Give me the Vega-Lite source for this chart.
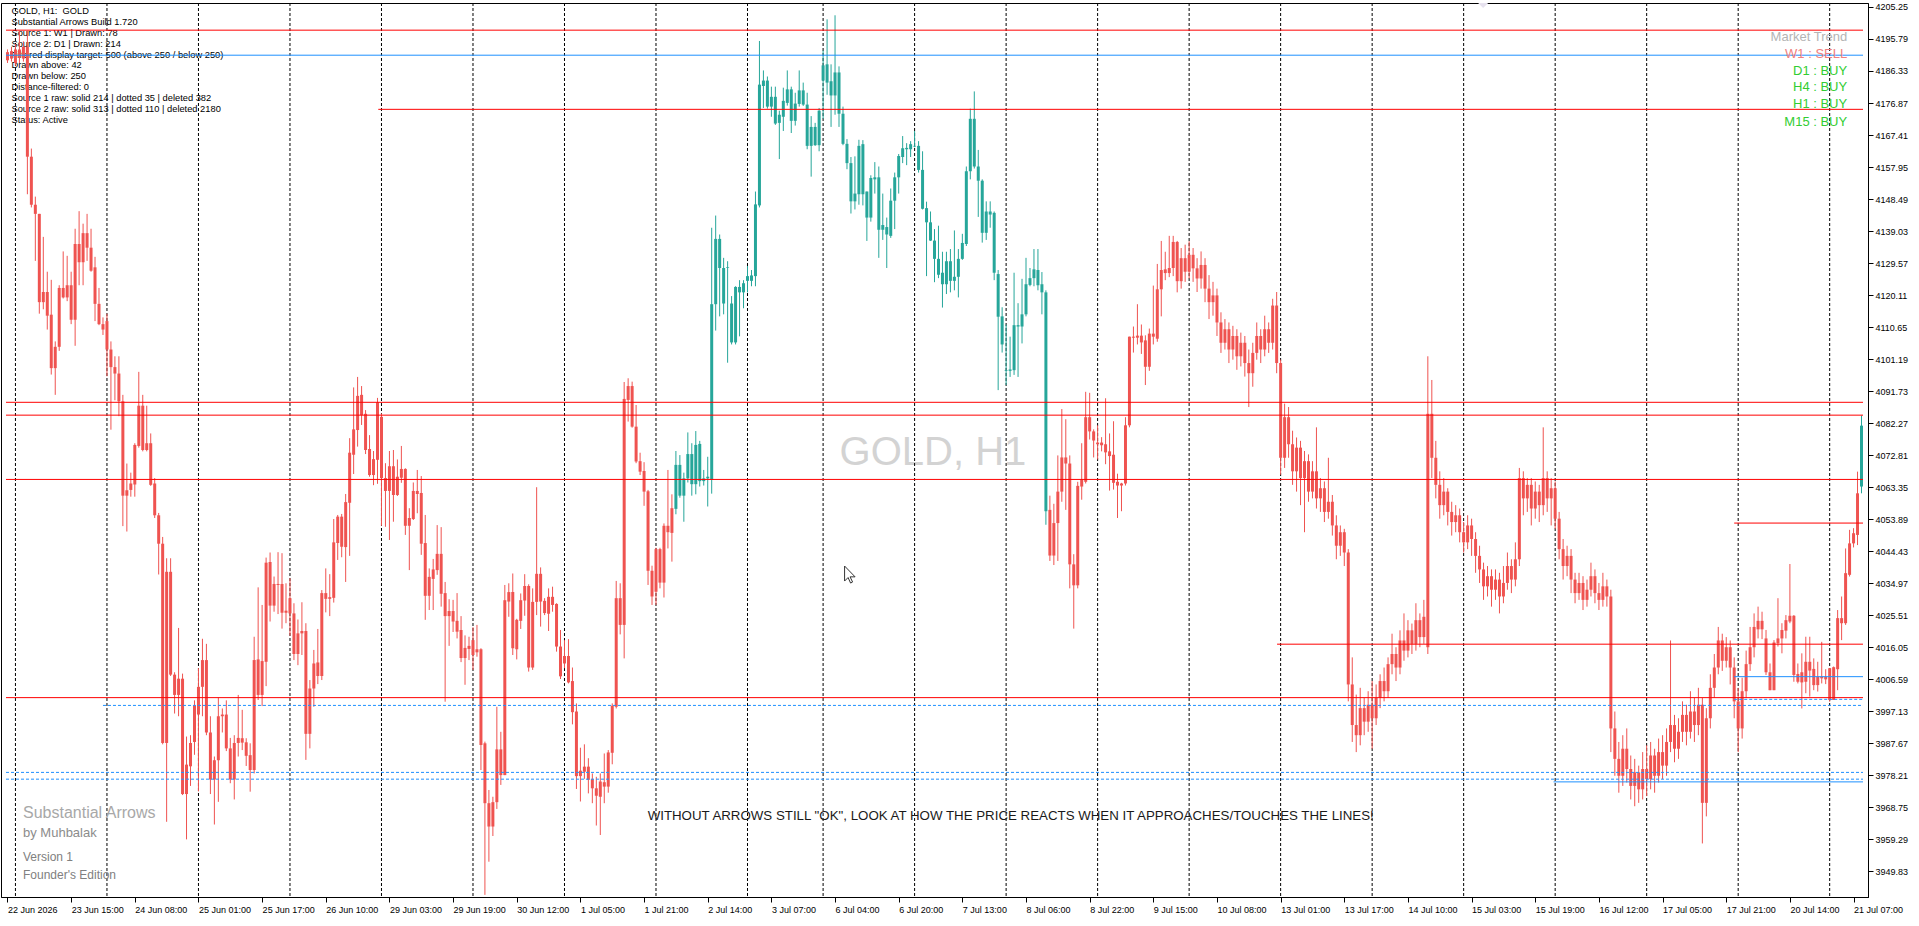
{
  "$schema": "https://vega.github.io/schema/vega-lite/v6.json",
  "width": 1867,
  "height": 894,
  "autosize": "none",
  "padding": {"left": 1, "top": 3, "right": 51, "bottom": 29},
  "background": "white",
  "config": {
    "view": {"stroke": "#000000", "strokeWidth": 1},
    "font": "Liberation Sans",
    "axis": {"labelFont": "Liberation Sans", "labelColor": "#000000", "tickColor": "#000000", "domainColor": "#000000"}
  },
  "resolve": {"axis": {"x": "independent", "y": "independent"}},
  "datasets": {
    "bars": [
      {"i":0,"o":4191.9,"h":4192.7,"l":4188.7,"c":4189.5,"t":"d"},
      {"i":1,"o":4192.2,"h":4193.5,"l":4189.1,"c":4190.0,"t":"d"},
      {"i":2,"o":4192.7,"h":4194.3,"l":4187.9,"c":4188.7,"t":"d"},
      {"i":3,"o":4192.7,"h":4198.2,"l":4188.7,"c":4190.3,"t":"d"},
      {"i":4,"o":4193.5,"h":4195.1,"l":4189.1,"c":4190.0,"t":"d"},
      {"i":5,"o":4193.5,"h":4198.2,"l":4149.9,"c":4161.0,"t":"d"},
      {"i":6,"o":4161.0,"h":4163.4,"l":4146.0,"c":4146.8,"t":"d"},
      {"i":7,"o":4146.8,"h":4149.2,"l":4130.2,"c":4144.1,"t":"d"},
      {"i":8,"o":4144.1,"h":4144.1,"l":4114.6,"c":4118.0,"t":"d"},
      {"i":9,"o":4118.0,"h":4137.3,"l":4115.9,"c":4121.0,"t":"d"},
      {"i":10,"o":4121.0,"h":4127.0,"l":4109.9,"c":4114.0,"t":"d"},
      {"i":11,"o":4114.3,"h":4124.6,"l":4096.6,"c":4098.5,"t":"d"},
      {"i":12,"o":4098.5,"h":4106.4,"l":4090.6,"c":4104.8,"t":"d"},
      {"i":13,"o":4104.8,"h":4123.0,"l":4103.6,"c":4122.2,"t":"d"},
      {"i":14,"o":4122.2,"h":4133.0,"l":4119.1,"c":4119.4,"t":"d"},
      {"i":15,"o":4119.4,"h":4131.7,"l":4118.3,"c":4123.0,"t":"d"},
      {"i":16,"o":4123.0,"h":4127.0,"l":4111.5,"c":4112.8,"t":"d"},
      {"i":17,"o":4112.8,"h":4139.7,"l":4105.1,"c":4135.2,"t":"d"},
      {"i":18,"o":4135.2,"h":4144.9,"l":4123.0,"c":4129.8,"t":"d"},
      {"i":19,"o":4129.8,"h":4141.2,"l":4123.0,"c":4138.4,"t":"d"},
      {"i":20,"o":4138.4,"h":4144.1,"l":4130.2,"c":4134.1,"t":"d"},
      {"i":21,"o":4134.1,"h":4139.7,"l":4127.0,"c":4127.3,"t":"d"},
      {"i":22,"o":4128.3,"h":4131.4,"l":4112.4,"c":4117.5,"t":"d"},
      {"i":23,"o":4117.5,"h":4122.2,"l":4111.2,"c":4111.5,"t":"d"},
      {"i":24,"o":4111.5,"h":4113.5,"l":4108.3,"c":4109.9,"t":"d"},
      {"i":25,"o":4112.4,"h":4114.6,"l":4096.1,"c":4104.0,"t":"d"},
      {"i":26,"o":4104.0,"h":4106.4,"l":4080.3,"c":4098.8,"t":"d"},
      {"i":27,"o":4098.8,"h":4102.0,"l":4089.0,"c":4096.9,"t":"d"},
      {"i":28,"o":4096.9,"h":4102.0,"l":4084.3,"c":4088.7,"t":"d"},
      {"i":29,"o":4088.7,"h":4090.6,"l":4051.8,"c":4060.8,"t":"d"},
      {"i":30,"o":4060.8,"h":4070.3,"l":4050.2,"c":4062.4,"t":"d"},
      {"i":31,"o":4062.5,"h":4067.6,"l":4060.5,"c":4064.4,"t":"d"},
      {"i":32,"o":4064.1,"h":4076.3,"l":4060.5,"c":4075.8,"t":"d"},
      {"i":33,"o":4075.5,"h":4097.4,"l":4075.0,"c":4087.4,"t":"d"},
      {"i":34,"o":4087.4,"h":4090.6,"l":4073.9,"c":4074.3,"t":"d"},
      {"i":35,"o":4074.3,"h":4087.4,"l":4073.9,"c":4076.3,"t":"d"},
      {"i":36,"o":4076.3,"h":4079.2,"l":4063.7,"c":4064.0,"t":"d"},
      {"i":37,"o":4064.4,"h":4066.0,"l":4054.2,"c":4055.0,"t":"d"},
      {"i":38,"o":4055.0,"h":4055.7,"l":4037.5,"c":4046.6,"t":"d"},
      {"i":39,"o":4046.6,"h":4048.6,"l":3987.3,"c":3987.7,"t":"d"},
      {"i":40,"o":3987.7,"h":4042.3,"l":3964.4,"c":4038.3,"t":"d"},
      {"i":41,"o":4038.3,"h":4042.3,"l":4007.5,"c":4007.9,"t":"d"},
      {"i":42,"o":4007.9,"h":4008.6,"l":3996.4,"c":4001.9,"t":"d"},
      {"i":43,"o":4001.9,"h":4021.7,"l":3995.6,"c":4006.7,"t":"d"},
      {"i":44,"o":4006.7,"h":4008.2,"l":3972.3,"c":3972.6,"t":"d"},
      {"i":45,"o":3972.6,"h":3989.6,"l":3959.2,"c":3981.3,"t":"d"},
      {"i":46,"o":3980.8,"h":3990.0,"l":3975.0,"c":3987.7,"t":"d"},
      {"i":47,"o":3988.0,"h":4000.3,"l":3984.2,"c":3998.7,"t":"d"},
      {"i":48,"o":3996.1,"h":4009.8,"l":3973.4,"c":4004.3,"t":"d"},
      {"i":49,"o":4004.3,"h":4018.5,"l":3995.6,"c":4012.2,"t":"d"},
      {"i":50,"o":4012.2,"h":4017.0,"l":3990.0,"c":3990.8,"t":"d"},
      {"i":51,"o":3990.8,"h":3995.6,"l":3972.6,"c":3976.9,"t":"d"},
      {"i":52,"o":3976.9,"h":3983.7,"l":3963.6,"c":3982.6,"t":"d"},
      {"i":53,"o":3982.6,"h":4001.1,"l":3970.3,"c":3995.6,"t":"d"},
      {"i":54,"o":3995.6,"h":3997.9,"l":3990.8,"c":3996.1,"t":"d"},
      {"i":55,"o":3996.1,"h":4000.3,"l":3985.3,"c":3986.1,"t":"d"},
      {"i":56,"o":3986.1,"h":3989.2,"l":3975.8,"c":3976.9,"t":"d"},
      {"i":57,"o":3976.9,"h":3990.0,"l":3971.0,"c":3987.7,"t":"d"},
      {"i":58,"o":3987.7,"h":4001.9,"l":3983.7,"c":3989.2,"t":"d"},
      {"i":59,"o":3989.1,"h":3997.5,"l":3985.6,"c":3987.8,"t":"d"},
      {"i":60,"o":3987.9,"h":3989.1,"l":3980.9,"c":3983.9,"t":"d"},
      {"i":61,"o":3984.1,"h":3987.6,"l":3973.3,"c":3979.7,"t":"d"},
      {"i":62,"o":3979.7,"h":4019.1,"l":3978.7,"c":4012.2,"t":"d"},
      {"i":63,"o":4012.4,"h":4033.7,"l":4000.4,"c":4001.9,"t":"d"},
      {"i":64,"o":4001.9,"h":4028.5,"l":3998.6,"c":4011.9,"t":"d"},
      {"i":65,"o":4011.7,"h":4042.5,"l":4004.5,"c":4041.0,"t":"d"},
      {"i":66,"o":4041.2,"h":4044.0,"l":4023.6,"c":4028.3,"t":"d"},
      {"i":67,"o":4028.3,"h":4036.9,"l":4026.5,"c":4034.7,"t":"d"},
      {"i":68,"o":4034.7,"h":4044.1,"l":4025.8,"c":4034.4,"t":"d"},
      {"i":69,"o":4034.7,"h":4043.8,"l":4021.5,"c":4026.2,"t":"d"},
      {"i":70,"o":4026.2,"h":4034.9,"l":4023.1,"c":4026.8,"t":"d"},
      {"i":71,"o":4026.0,"h":4036.4,"l":4019.4,"c":4030.5,"t":"d"},
      {"i":72,"o":4026.0,"h":4029.0,"l":4012.2,"c":4014.0,"t":"d"},
      {"i":73,"o":4014.0,"h":4024.2,"l":4010.7,"c":4020.1,"t":"d"},
      {"i":74,"o":4020.1,"h":4029.3,"l":4013.7,"c":4020.8,"t":"d"},
      {"i":75,"o":4020.8,"h":4023.1,"l":3982.7,"c":3990.4,"t":"d"},
      {"i":76,"o":3990.4,"h":4006.3,"l":3986.1,"c":4003.8,"t":"d"},
      {"i":77,"o":4003.8,"h":4015.2,"l":3998.4,"c":4011.2,"t":"d"},
      {"i":78,"o":4011.5,"h":4021.4,"l":4005.1,"c":4007.5,"t":"d"},
      {"i":79,"o":4007.5,"h":4032.9,"l":4006.3,"c":4032.0,"t":"d"},
      {"i":80,"o":4032.0,"h":4039.3,"l":4026.3,"c":4030.3,"t":"d"},
      {"i":81,"o":4030.3,"h":4037.6,"l":4025.2,"c":4030.8,"t":"d"},
      {"i":82,"o":4030.6,"h":4053.9,"l":4029.2,"c":4047.0,"t":"d"},
      {"i":83,"o":4046.8,"h":4055.1,"l":4041.8,"c":4054.6,"t":"d"},
      {"i":84,"o":4054.6,"h":4055.4,"l":4042.6,"c":4045.7,"t":"d"},
      {"i":85,"o":4045.6,"h":4061.3,"l":4035.3,"c":4058.9,"t":"d"},
      {"i":86,"o":4058.7,"h":4077.8,"l":4043.0,"c":4073.5,"t":"d"},
      {"i":87,"o":4072.9,"h":4092.8,"l":4067.2,"c":4080.4,"t":"d"},
      {"i":88,"o":4080.2,"h":4095.9,"l":4075.3,"c":4090.3,"t":"d"},
      {"i":89,"o":4090.6,"h":4093.2,"l":4081.7,"c":4084.6,"t":"d"},
      {"i":90,"o":4085.0,"h":4086.1,"l":4073.1,"c":4074.3,"t":"d"},
      {"i":91,"o":4074.6,"h":4078.7,"l":4066.4,"c":4066.9,"t":"d"},
      {"i":92,"o":4066.9,"h":4074.0,"l":4063.9,"c":4071.6,"t":"d"},
      {"i":93,"o":4071.4,"h":4089.7,"l":4064.3,"c":4088.4,"t":"d"},
      {"i":94,"o":4084.1,"h":4085.1,"l":4051.9,"c":4066.0,"t":"d"},
      {"i":95,"o":4066.0,"h":4070.4,"l":4051.6,"c":4062.2,"t":"d"},
      {"i":96,"o":4062.2,"h":4074.0,"l":4047.7,"c":4069.5,"t":"d"},
      {"i":97,"o":4069.5,"h":4074.3,"l":4053.1,"c":4061.0,"t":"d"},
      {"i":98,"o":4061.0,"h":4071.5,"l":4060.7,"c":4066.4,"t":"d"},
      {"i":99,"o":4066.1,"h":4075.5,"l":4064.6,"c":4068.7,"t":"d"},
      {"i":100,"o":4068.7,"h":4068.9,"l":4049.2,"c":4051.9,"t":"d"},
      {"i":101,"o":4051.9,"h":4057.1,"l":4038.8,"c":4054.2,"t":"d"},
      {"i":102,"o":4053.9,"h":4064.7,"l":4053.6,"c":4062.2,"t":"d"},
      {"i":103,"o":4062.2,"h":4068.4,"l":4055.6,"c":4061.3,"t":"d"},
      {"i":104,"o":4061.6,"h":4066.6,"l":4043.3,"c":4046.6,"t":"d"},
      {"i":105,"o":4046.8,"h":4055.1,"l":4024.1,"c":4031.2,"t":"d"},
      {"i":106,"o":4031.2,"h":4039.3,"l":4027.0,"c":4036.8,"t":"d"},
      {"i":107,"o":4036.2,"h":4042.1,"l":4027.0,"c":4039.0,"t":"d"},
      {"i":108,"o":4038.8,"h":4052.1,"l":4037.4,"c":4043.6,"t":"d"},
      {"i":109,"o":4043.6,"h":4051.5,"l":4028.0,"c":4031.8,"t":"d"},
      {"i":110,"o":4032.0,"h":4035.3,"l":3999.9,"c":4025.2,"t":"d"},
      {"i":111,"o":4025.2,"h":4030.2,"l":4016.4,"c":4026.7,"t":"d"},
      {"i":112,"o":4026.7,"h":4030.0,"l":4020.5,"c":4023.6,"t":"d"},
      {"i":113,"o":4023.8,"h":4032.0,"l":4018.6,"c":4020.6,"t":"d"},
      {"i":114,"o":4021.1,"h":4025.2,"l":4011.6,"c":4012.8,"t":"d"},
      {"i":115,"o":4012.8,"h":4019.5,"l":4004.9,"c":4015.8,"t":"d"},
      {"i":116,"o":4016.4,"h":4019.1,"l":4012.2,"c":4015.5,"t":"d"},
      {"i":117,"o":4013.7,"h":4021.9,"l":4009.3,"c":4018.1,"t":"d"},
      {"i":118,"o":4015.4,"h":4022.6,"l":4013.2,"c":4014.5,"t":"d"},
      {"i":119,"o":4015.4,"h":4015.7,"l":3979.7,"c":3987.1,"t":"d"},
      {"i":120,"o":3987.6,"h":3988.1,"l":3942.8,"c":3969.9,"t":"d"},
      {"i":121,"o":3969.9,"h":3973.8,"l":3952.6,"c":3963.0,"t":"d"},
      {"i":122,"o":3963.0,"h":3971.8,"l":3960.2,"c":3970.2,"t":"d"},
      {"i":123,"o":3970.2,"h":3998.4,"l":3968.2,"c":3985.8,"t":"d"},
      {"i":124,"o":3978.2,"h":3991.0,"l":3975.3,"c":3985.8,"t":"d"},
      {"i":125,"o":3978.2,"h":4034.4,"l":3978.2,"c":4029.9,"t":"d"},
      {"i":126,"o":4029.5,"h":4034.9,"l":4025.0,"c":4032.3,"t":"d"},
      {"i":127,"o":4032.3,"h":4037.8,"l":4013.7,"c":4015.7,"t":"d"},
      {"i":128,"o":4015.4,"h":4024.4,"l":4012.4,"c":4024.1,"t":"d"},
      {"i":129,"o":4023.8,"h":4031.9,"l":4021.4,"c":4029.9,"t":"d"},
      {"i":130,"o":4029.8,"h":4037.6,"l":4025.3,"c":4034.1,"t":"d"},
      {"i":131,"o":4034.1,"h":4034.6,"l":4008.8,"c":4010.0,"t":"d"},
      {"i":132,"o":4010.0,"h":4033.4,"l":4009.3,"c":4029.4,"t":"d"},
      {"i":133,"o":4029.4,"h":4063.3,"l":4025.5,"c":4037.7,"t":"d"},
      {"i":134,"o":4037.7,"h":4039.6,"l":4022.1,"c":4029.5,"t":"d"},
      {"i":135,"o":4029.7,"h":4030.5,"l":4025.5,"c":4026.1,"t":"d"},
      {"i":136,"o":4025.9,"h":4033.4,"l":4020.8,"c":4030.9,"t":"d"},
      {"i":137,"o":4030.9,"h":4033.9,"l":4026.5,"c":4028.5,"t":"d"},
      {"i":138,"o":4028.8,"h":4029.0,"l":4014.7,"c":4016.2,"t":"d"},
      {"i":139,"o":4016.2,"h":4021.1,"l":4006.6,"c":4007.4,"t":"d"},
      {"i":140,"o":4011.2,"h":4018.1,"l":4009.8,"c":4013.4,"t":"d"},
      {"i":141,"o":4013.4,"h":4018.4,"l":4005.3,"c":4005.6,"t":"d"},
      {"i":142,"o":4006.0,"h":4010.0,"l":3993.2,"c":3996.8,"t":"d"},
      {"i":143,"o":3997.0,"h":3999.4,"l":3974.1,"c":3977.9,"t":"d"},
      {"i":144,"o":3977.9,"h":3986.3,"l":3970.4,"c":3979.5,"t":"d"},
      {"i":145,"o":3979.2,"h":3987.3,"l":3977.1,"c":3980.7,"t":"d"},
      {"i":146,"o":3980.7,"h":3983.2,"l":3972.8,"c":3976.8,"t":"d"},
      {"i":147,"o":3977.0,"h":3978.7,"l":3969.9,"c":3974.3,"t":"d"},
      {"i":148,"o":3974.3,"h":3977.7,"l":3963.3,"c":3972.1,"t":"d"},
      {"i":149,"o":3971.8,"h":3978.7,"l":3960.5,"c":3976.3,"t":"d"},
      {"i":150,"o":3976.1,"h":3984.6,"l":3969.9,"c":3974.8,"t":"d"},
      {"i":151,"o":3974.8,"h":3985.6,"l":3973.0,"c":3984.9,"t":"d"},
      {"i":152,"o":3984.8,"h":3999.4,"l":3981.4,"c":3998.7,"t":"d"},
      {"i":153,"o":3998.4,"h":4035.6,"l":3997.9,"c":4030.5,"t":"d"},
      {"i":154,"o":4030.5,"h":4034.9,"l":4019.8,"c":4022.6,"t":"d"},
      {"i":155,"o":4022.6,"h":4094.4,"l":4012.7,"c":4089.4,"t":"d"},
      {"i":156,"o":4089.1,"h":4095.5,"l":4082.7,"c":4093.2,"t":"d"},
      {"i":157,"o":4093.2,"h":4094.5,"l":4080.9,"c":4081.2,"t":"d"},
      {"i":158,"o":4081.2,"h":4087.6,"l":4070.4,"c":4070.9,"t":"d"},
      {"i":159,"o":4071.0,"h":4073.5,"l":4066.9,"c":4067.9,"t":"d"},
      {"i":160,"o":4068.1,"h":4070.7,"l":4057.8,"c":4062.0,"t":"d"},
      {"i":161,"o":4062.1,"h":4062.5,"l":4034.4,"c":4038.6,"t":"d"},
      {"i":162,"o":4038.6,"h":4040.1,"l":4028.5,"c":4031.0,"t":"d"},
      {"i":163,"o":4032.4,"h":4045.4,"l":4028.5,"c":4045.0,"t":"d"},
      {"i":164,"o":4045.0,"h":4045.4,"l":4033.4,"c":4035.1,"t":"d"},
      {"i":165,"o":4035.1,"h":4052.6,"l":4030.7,"c":4051.9,"t":"d"},
      {"i":166,"o":4051.9,"h":4068.4,"l":4045.2,"c":4050.0,"t":"d"},
      {"i":167,"o":4049.8,"h":4061.2,"l":4041.3,"c":4057.1,"t":"d"},
      {"i":168,"o":4056.9,"h":4074.0,"l":4055.3,"c":4069.9,"t":"u"},
      {"i":169,"o":4069.9,"h":4072.8,"l":4060.2,"c":4060.8,"t":"u"},
      {"i":170,"o":4060.8,"h":4067.6,"l":4053.1,"c":4065.9,"t":"u"},
      {"i":171,"o":4065.9,"h":4079.5,"l":4064.7,"c":4073.1,"t":"u"},
      {"i":172,"o":4073.1,"h":4076.3,"l":4060.8,"c":4064.2,"t":"u"},
      {"i":173,"o":4064.2,"h":4079.9,"l":4061.2,"c":4075.8,"t":"u"},
      {"i":174,"o":4076.1,"h":4077.0,"l":4063.5,"c":4065.1,"t":"u"},
      {"i":175,"o":4065.1,"h":4068.4,"l":4063.8,"c":4065.9,"t":"u"},
      {"i":176,"o":4065.9,"h":4072.3,"l":4057.6,"c":4066.4,"t":"u"},
      {"i":177,"o":4065.5,"h":4140.0,"l":4061.4,"c":4117.4,"t":"u"},
      {"i":178,"o":4117.4,"h":4143.6,"l":4109.6,"c":4136.7,"t":"u"},
      {"i":179,"o":4136.7,"h":4138.0,"l":4113.8,"c":4128.1,"t":"u"},
      {"i":180,"o":4128.1,"h":4131.1,"l":4114.4,"c":4117.6,"t":"u"},
      {"i":181,"o":4128.3,"h":4130.1,"l":4100.1,"c":4128.1,"t":"u"},
      {"i":182,"o":4117.6,"h":4119.8,"l":4105.5,"c":4106.1,"t":"u"},
      {"i":183,"o":4106.1,"h":4122.7,"l":4105.5,"c":4122.5,"t":"u"},
      {"i":184,"o":4120.9,"h":4124.5,"l":4107.9,"c":4122.5,"t":"u"},
      {"i":185,"o":4120.9,"h":4124.5,"l":4116.2,"c":4123.6,"t":"u"},
      {"i":186,"o":4124.3,"h":4128.7,"l":4120.9,"c":4125.7,"t":"u"},
      {"i":187,"o":4124.3,"h":4127.5,"l":4122.7,"c":4125.9,"t":"u"},
      {"i":188,"o":4125.7,"h":4150.7,"l":4122.7,"c":4146.9,"t":"u"},
      {"i":189,"o":4146.6,"h":4195.2,"l":4146.0,"c":4182.3,"t":"u"},
      {"i":190,"o":4181.9,"h":4186.5,"l":4175.4,"c":4183.5,"t":"u"},
      {"i":191,"o":4183.5,"h":4184.7,"l":4175.2,"c":4175.8,"t":"u"},
      {"i":192,"o":4175.8,"h":4181.7,"l":4172.8,"c":4178.7,"t":"u"},
      {"i":193,"o":4178.7,"h":4181.7,"l":4170.4,"c":4170.8,"t":"u"},
      {"i":194,"o":4171.0,"h":4174.6,"l":4160.3,"c":4173.4,"t":"u"},
      {"i":195,"o":4172.8,"h":4181.4,"l":4168.6,"c":4177.5,"t":"u"},
      {"i":196,"o":4176.9,"h":4186.5,"l":4176.1,"c":4180.9,"t":"u"},
      {"i":197,"o":4180.9,"h":4181.7,"l":4168.0,"c":4171.6,"t":"u"},
      {"i":198,"o":4171.6,"h":4179.9,"l":4170.2,"c":4176.7,"t":"u"},
      {"i":199,"o":4176.6,"h":4186.5,"l":4175.8,"c":4180.6,"t":"u"},
      {"i":200,"o":4180.6,"h":4182.9,"l":4176.0,"c":4176.4,"t":"u"},
      {"i":201,"o":4176.4,"h":4179.9,"l":4163.2,"c":4164.2,"t":"u"},
      {"i":202,"o":4164.2,"h":4173.0,"l":4155.1,"c":4169.8,"t":"u"},
      {"i":203,"o":4169.8,"h":4171.0,"l":4164.2,"c":4164.4,"t":"u"},
      {"i":204,"o":4164.4,"h":4175.4,"l":4162.6,"c":4174.6,"t":"u"},
      {"i":205,"o":4183.5,"h":4192.4,"l":4172.2,"c":4188.0,"t":"u"},
      {"i":206,"o":4188.3,"h":4201.6,"l":4179.3,"c":4182.9,"t":"u"},
      {"i":207,"o":4183.3,"h":4188.3,"l":4169.8,"c":4179.1,"t":"u"},
      {"i":208,"o":4179.1,"h":4202.8,"l":4173.4,"c":4185.9,"t":"u"},
      {"i":209,"o":4185.9,"h":4187.7,"l":4169.8,"c":4173.7,"t":"u"},
      {"i":210,"o":4173.7,"h":4175.8,"l":4164.4,"c":4164.8,"t":"u"},
      {"i":211,"o":4164.8,"h":4166.2,"l":4157.3,"c":4159.1,"t":"u"},
      {"i":212,"o":4159.1,"h":4160.9,"l":4144.2,"c":4147.8,"t":"u"},
      {"i":213,"o":4147.8,"h":4161.1,"l":4145.4,"c":4150.1,"t":"u"},
      {"i":214,"o":4149.9,"h":4166.0,"l":4146.8,"c":4164.2,"t":"u"},
      {"i":215,"o":4164.7,"h":4165.9,"l":4146.6,"c":4149.9,"t":"u"},
      {"i":216,"o":4150.7,"h":4150.7,"l":4136.1,"c":4143.0,"t":"u"},
      {"i":217,"o":4143.0,"h":4155.5,"l":4141.8,"c":4154.7,"t":"u"},
      {"i":218,"o":4154.3,"h":4159.4,"l":4150.1,"c":4154.9,"t":"u"},
      {"i":219,"o":4154.9,"h":4158.1,"l":4131.1,"c":4139.4,"t":"u"},
      {"i":220,"o":4139.4,"h":4150.1,"l":4136.4,"c":4140.8,"t":"u"},
      {"i":221,"o":4140.2,"h":4143.0,"l":4128.1,"c":4138.0,"t":"u"},
      {"i":222,"o":4137.6,"h":4151.6,"l":4137.0,"c":4148.0,"t":"u"},
      {"i":223,"o":4148.0,"h":4156.3,"l":4139.6,"c":4154.9,"t":"u"},
      {"i":224,"o":4154.9,"h":4161.8,"l":4150.1,"c":4161.2,"t":"u"},
      {"i":225,"o":4160.9,"h":4167.1,"l":4159.1,"c":4163.5,"t":"u"},
      {"i":226,"o":4163.6,"h":4165.0,"l":4158.5,"c":4163.2,"t":"u"},
      {"i":227,"o":4163.2,"h":4165.6,"l":4160.9,"c":4164.7,"t":"u"},
      {"i":228,"o":4164.0,"h":4168.6,"l":4163.8,"c":4164.2,"t":"u"},
      {"i":229,"o":4164.2,"h":4165.6,"l":4156.3,"c":4157.1,"t":"u"},
      {"i":230,"o":4157.1,"h":4162.6,"l":4145.4,"c":4145.6,"t":"u"},
      {"i":231,"o":4145.8,"h":4147.7,"l":4125.7,"c":4141.6,"t":"u"},
      {"i":232,"o":4141.6,"h":4144.8,"l":4136.1,"c":4136.2,"t":"u"},
      {"i":233,"o":4136.2,"h":4139.6,"l":4123.9,"c":4130.8,"t":"u"},
      {"i":234,"o":4130.8,"h":4140.6,"l":4125.1,"c":4126.1,"t":"u"},
      {"i":235,"o":4126.7,"h":4132.9,"l":4116.4,"c":4123.3,"t":"u"},
      {"i":236,"o":4123.3,"h":4132.9,"l":4120.4,"c":4130.1,"t":"u"},
      {"i":237,"o":4130.1,"h":4133.7,"l":4120.9,"c":4124.3,"t":"u"},
      {"i":238,"o":4124.3,"h":4139.2,"l":4121.5,"c":4125.5,"t":"u"},
      {"i":239,"o":4125.5,"h":4133.7,"l":4119.4,"c":4130.8,"t":"u"},
      {"i":240,"o":4130.8,"h":4138.2,"l":4130.5,"c":4135.5,"t":"u"},
      {"i":241,"o":4135.2,"h":4158.1,"l":4134.6,"c":4156.7,"t":"u"},
      {"i":242,"o":4156.7,"h":4175.2,"l":4154.3,"c":4172.2,"t":"u"},
      {"i":243,"o":4172.2,"h":4180.3,"l":4157.5,"c":4158.1,"t":"u"},
      {"i":244,"o":4158.1,"h":4163.0,"l":4143.2,"c":4153.9,"t":"u"},
      {"i":245,"o":4153.9,"h":4154.3,"l":4135.6,"c":4138.5,"t":"u"},
      {"i":246,"o":4138.5,"h":4147.8,"l":4136.4,"c":4144.8,"t":"u"},
      {"i":247,"o":4144.8,"h":4147.8,"l":4140.0,"c":4143.9,"t":"u"},
      {"i":248,"o":4144.4,"h":4144.8,"l":4124.5,"c":4126.7,"t":"u"},
      {"i":249,"o":4126.3,"h":4127.5,"l":4092.0,"c":4113.7,"t":"u"},
      {"i":250,"o":4113.8,"h":4116.5,"l":4103.1,"c":4105.5,"t":"u"},
      {"i":251,"o":4097.7,"h":4111.4,"l":4093.5,"c":4097.9,"t":"u"},
      {"i":252,"o":4098.1,"h":4107.8,"l":4095.9,"c":4097.7,"t":"u"},
      {"i":253,"o":4097.9,"h":4126.7,"l":4096.5,"c":4111.2,"t":"u"},
      {"i":254,"o":4111.2,"h":4117.7,"l":4095.9,"c":4110.8,"t":"u"},
      {"i":255,"o":4110.8,"h":4124.9,"l":4105.8,"c":4114.4,"t":"u"},
      {"i":256,"o":4114.4,"h":4131.1,"l":4113.8,"c":4123.3,"t":"u"},
      {"i":257,"o":4123.1,"h":4128.1,"l":4122.7,"c":4125.1,"t":"u"},
      {"i":258,"o":4125.1,"h":4133.7,"l":4122.7,"c":4127.7,"t":"u"},
      {"i":259,"o":4127.5,"h":4133.7,"l":4121.5,"c":4123.0,"t":"u"},
      {"i":260,"o":4123.3,"h":4126.9,"l":4114.4,"c":4120.9,"t":"u"},
      {"i":261,"o":4120.9,"h":4121.5,"l":4052.2,"c":4056.2,"t":"u"},
      {"i":262,"o":4056.6,"h":4060.8,"l":4041.5,"c":4043.1,"t":"d"},
      {"i":263,"o":4043.1,"h":4058.4,"l":4040.3,"c":4052.7,"t":"d"},
      {"i":264,"o":4052.7,"h":4072.7,"l":4041.5,"c":4062.0,"t":"d"},
      {"i":265,"o":4062.0,"h":4086.4,"l":4059.0,"c":4072.1,"t":"d"},
      {"i":266,"o":4072.1,"h":4083.4,"l":4056.6,"c":4070.3,"t":"d"},
      {"i":267,"o":4070.3,"h":4072.7,"l":4033.4,"c":4040.5,"t":"d"},
      {"i":268,"o":4040.5,"h":4043.5,"l":4021.5,"c":4034.3,"t":"d"},
      {"i":269,"o":4034.3,"h":4064.9,"l":4033.4,"c":4063.7,"t":"d"},
      {"i":270,"o":4063.5,"h":4076.3,"l":4059.6,"c":4065.5,"t":"d"},
      {"i":271,"o":4064.9,"h":4091.5,"l":4064.4,"c":4084.0,"t":"d"},
      {"i":272,"o":4084.0,"h":4091.2,"l":4077.4,"c":4079.8,"t":"d"},
      {"i":273,"o":4079.8,"h":4080.4,"l":4072.1,"c":4077.1,"t":"d"},
      {"i":274,"o":4076.5,"h":4081.6,"l":4071.5,"c":4076.0,"t":"d"},
      {"i":275,"o":4075.7,"h":4078.1,"l":4073.9,"c":4076.5,"t":"d"},
      {"i":276,"o":4076.0,"h":4089.6,"l":4070.1,"c":4073.6,"t":"d"},
      {"i":277,"o":4073.9,"h":4079.2,"l":4062.3,"c":4072.5,"t":"d"},
      {"i":278,"o":4072.9,"h":4082.8,"l":4062.6,"c":4064.6,"t":"d"},
      {"i":279,"o":4064.9,"h":4067.3,"l":4054.2,"c":4063.8,"t":"d"},
      {"i":280,"o":4063.8,"h":4064.6,"l":4056.2,"c":4064.4,"t":"d"},
      {"i":281,"o":4064.4,"h":4084.0,"l":4063.8,"c":4081.6,"t":"d"},
      {"i":282,"o":4081.6,"h":4107.8,"l":4081.0,"c":4107.8,"t":"d"},
      {"i":283,"o":4107.5,"h":4110.8,"l":4103.1,"c":4107.8,"t":"d"},
      {"i":284,"o":4107.5,"h":4117.4,"l":4105.5,"c":4108.1,"t":"d"},
      {"i":285,"o":4108.1,"h":4111.4,"l":4102.7,"c":4106.1,"t":"d"},
      {"i":286,"o":4106.7,"h":4108.2,"l":4093.5,"c":4098.9,"t":"d"},
      {"i":287,"o":4098.9,"h":4110.2,"l":4097.7,"c":4108.7,"t":"d"},
      {"i":288,"o":4107.8,"h":4122.9,"l":4105.5,"c":4108.7,"t":"d"},
      {"i":289,"o":4107.2,"h":4129.3,"l":4106.3,"c":4121.8,"t":"d"},
      {"i":290,"o":4121.8,"h":4136.1,"l":4113.8,"c":4127.5,"t":"d"},
      {"i":291,"o":4126.6,"h":4132.9,"l":4124.5,"c":4127.7,"t":"d"},
      {"i":292,"o":4126.6,"h":4137.6,"l":4125.4,"c":4128.1,"t":"d"},
      {"i":293,"o":4128.1,"h":4137.6,"l":4125.7,"c":4135.8,"t":"d"},
      {"i":294,"o":4135.8,"h":4136.1,"l":4120.9,"c":4124.2,"t":"d"},
      {"i":295,"o":4124.2,"h":4134.0,"l":4122.0,"c":4131.0,"t":"d"},
      {"i":296,"o":4131.0,"h":4135.0,"l":4124.0,"c":4127.0,"t":"d"},
      {"i":297,"o":4127.0,"h":4136.0,"l":4125.0,"c":4132.0,"t":"d"},
      {"i":298,"o":4132.0,"h":4134.0,"l":4124.0,"c":4128.0,"t":"d"},
      {"i":299,"o":4128.0,"h":4131.0,"l":4121.0,"c":4125.0,"t":"d"},
      {"i":300,"o":4125.0,"h":4133.0,"l":4122.0,"c":4129.0,"t":"d"},
      {"i":301,"o":4129.0,"h":4131.0,"l":4118.0,"c":4122.0,"t":"d"},
      {"i":302,"o":4122.0,"h":4126.0,"l":4113.0,"c":4118.0,"t":"d"},
      {"i":303,"o":4118.0,"h":4124.0,"l":4114.0,"c":4120.0,"t":"d"},
      {"i":304,"o":4120.0,"h":4122.0,"l":4108.0,"c":4112.0,"t":"d"},
      {"i":305,"o":4112.0,"h":4115.0,"l":4103.0,"c":4106.0,"t":"d"},
      {"i":306,"o":4106.0,"h":4113.0,"l":4104.0,"c":4110.0,"t":"d"},
      {"i":307,"o":4110.0,"h":4112.0,"l":4100.0,"c":4104.0,"t":"d"},
      {"i":308,"o":4104.0,"h":4111.0,"l":4101.0,"c":4108.0,"t":"d"},
      {"i":309,"o":4108.0,"h":4110.0,"l":4098.0,"c":4102.0,"t":"d"},
      {"i":310,"o":4102.0,"h":4109.0,"l":4099.0,"c":4106.0,"t":"d"},
      {"i":311,"o":4106.0,"h":4108.0,"l":4096.0,"c":4100.0,"t":"d"},
      {"i":312,"o":4100.0,"h":4104.0,"l":4087.0,"c":4097.0,"t":"d"},
      {"i":313,"o":4097.0,"h":4106.0,"l":4093.0,"c":4103.0,"t":"d"},
      {"i":314,"o":4103.0,"h":4112.0,"l":4101.0,"c":4108.0,"t":"d"},
      {"i":315,"o":4108.0,"h":4110.0,"l":4100.0,"c":4104.0,"t":"d"},
      {"i":316,"o":4104.0,"h":4114.0,"l":4102.0,"c":4110.0,"t":"d"},
      {"i":317,"o":4110.0,"h":4112.0,"l":4103.0,"c":4106.0,"t":"d"},
      {"i":318,"o":4106.0,"h":4119.0,"l":4104.0,"c":4117.0,"t":"d"},
      {"i":319,"o":4117.0,"h":4121.0,"l":4097.0,"c":4100.0,"t":"d"},
      {"i":320,"o":4100.0,"h":4101.0,"l":4067.0,"c":4072.0,"t":"d"},
      {"i":321,"o":4072.0,"h":4088.0,"l":4069.0,"c":4084.0,"t":"d"},
      {"i":322,"o":4084.0,"h":4087.0,"l":4072.0,"c":4076.0,"t":"d"},
      {"i":323,"o":4076.0,"h":4080.0,"l":4064.0,"c":4068.0,"t":"d"},
      {"i":324,"o":4068.0,"h":4078.0,"l":4062.0,"c":4075.0,"t":"d"},
      {"i":325,"o":4075.0,"h":4077.0,"l":4058.0,"c":4066.0,"t":"d"},
      {"i":326,"o":4066.0,"h":4074.0,"l":4050.0,"c":4071.0,"t":"d"},
      {"i":327,"o":4071.0,"h":4073.0,"l":4059.0,"c":4062.0,"t":"d"},
      {"i":328,"o":4062.0,"h":4071.0,"l":4060.0,"c":4068.0,"t":"d"},
      {"i":329,"o":4068.0,"h":4081.0,"l":4057.0,"c":4060.0,"t":"d"},
      {"i":330,"o":4060.0,"h":4066.0,"l":4056.0,"c":4063.0,"t":"d"},
      {"i":331,"o":4063.0,"h":4065.0,"l":4053.0,"c":4056.0,"t":"d"},
      {"i":332,"o":4056.0,"h":4072.0,"l":4054.0,"c":4059.0,"t":"d"},
      {"i":333,"o":4059.0,"h":4061.0,"l":4049.0,"c":4052.0,"t":"d"},
      {"i":334,"o":4052.0,"h":4055.0,"l":4042.0,"c":4046.0,"t":"d"},
      {"i":335,"o":4046.0,"h":4052.0,"l":4043.0,"c":4050.0,"t":"d"},
      {"i":336,"o":4050.0,"h":4051.0,"l":4040.0,"c":4044.0,"t":"d"},
      {"i":337,"o":4044.0,"h":4045.0,"l":4000.0,"c":4005.0,"t":"d"},
      {"i":338,"o":4005.0,"h":4013.0,"l":3988.0,"c":3993.0,"t":"d"},
      {"i":339,"o":3993.0,"h":4002.0,"l":3985.0,"c":3990.0,"t":"d"},
      {"i":340,"o":3990.0,"h":4004.0,"l":3987.0,"c":3998.0,"t":"d"},
      {"i":341,"o":3998.0,"h":4001.0,"l":3990.0,"c":3994.0,"t":"d"},
      {"i":342,"o":3994.0,"h":4003.0,"l":3991.0,"c":3999.0,"t":"d"},
      {"i":343,"o":3999.0,"h":4006.0,"l":3986.0,"c":3995.0,"t":"d"},
      {"i":344,"o":3995.0,"h":4005.0,"l":3993.0,"c":4001.0,"t":"d"},
      {"i":345,"o":4001.0,"h":4008.0,"l":3998.0,"c":4006.0,"t":"d"},
      {"i":346,"o":4006.0,"h":4010.0,"l":4000.0,"c":4003.0,"t":"d"},
      {"i":347,"o":4003.0,"h":4013.0,"l":4001.0,"c":4011.0,"t":"d"},
      {"i":348,"o":4011.0,"h":4020.0,"l":4008.0,"c":4014.0,"t":"d"},
      {"i":349,"o":4014.0,"h":4016.0,"l":4006.0,"c":4010.0,"t":"d"},
      {"i":350,"o":4010.0,"h":4021.0,"l":4008.0,"c":4018.0,"t":"d"},
      {"i":351,"o":4018.0,"h":4026.0,"l":4012.0,"c":4015.0,"t":"d"},
      {"i":352,"o":4015.0,"h":4024.0,"l":4013.0,"c":4021.0,"t":"d"},
      {"i":353,"o":4021.0,"h":4023.0,"l":4014.0,"c":4017.0,"t":"d"},
      {"i":354,"o":4017.0,"h":4029.0,"l":4015.0,"c":4024.0,"t":"d"},
      {"i":355,"o":4024.0,"h":4026.0,"l":4016.0,"c":4019.0,"t":"d"},
      {"i":356,"o":4019.0,"h":4030.0,"l":4017.0,"c":4025.0,"t":"d"},
      {"i":357,"o":4016.0,"h":4102.0,"l":4014.0,"c":4085.0,"t":"d"},
      {"i":358,"o":4085.0,"h":4095.0,"l":4066.0,"c":4072.0,"t":"d"},
      {"i":359,"o":4072.0,"h":4077.0,"l":4060.0,"c":4064.0,"t":"d"},
      {"i":360,"o":4064.0,"h":4068.0,"l":4054.0,"c":4058.0,"t":"d"},
      {"i":361,"o":4058.0,"h":4066.0,"l":4055.0,"c":4062.0,"t":"d"},
      {"i":362,"o":4062.0,"h":4063.0,"l":4052.0,"c":4056.0,"t":"d"},
      {"i":363,"o":4056.0,"h":4059.0,"l":4049.0,"c":4053.0,"t":"d"},
      {"i":364,"o":4053.0,"h":4058.0,"l":4050.0,"c":4055.0,"t":"d"},
      {"i":365,"o":4055.0,"h":4057.0,"l":4047.0,"c":4050.0,"t":"d"},
      {"i":366,"o":4050.0,"h":4053.0,"l":4044.0,"c":4047.0,"t":"d"},
      {"i":367,"o":4047.0,"h":4055.0,"l":4045.0,"c":4052.0,"t":"d"},
      {"i":368,"o":4052.0,"h":4054.0,"l":4043.0,"c":4048.0,"t":"d"},
      {"i":369,"o":4048.0,"h":4050.0,"l":4038.0,"c":4043.0,"t":"d"},
      {"i":370,"o":4043.0,"h":4046.0,"l":4035.0,"c":4039.0,"t":"d"},
      {"i":371,"o":4039.0,"h":4041.0,"l":4030.0,"c":4034.0,"t":"d"},
      {"i":372,"o":4034.0,"h":4040.0,"l":4031.0,"c":4037.0,"t":"d"},
      {"i":373,"o":4037.0,"h":4039.0,"l":4028.0,"c":4033.0,"t":"d"},
      {"i":374,"o":4033.0,"h":4039.0,"l":4030.0,"c":4036.0,"t":"d"},
      {"i":375,"o":4036.0,"h":4038.0,"l":4026.0,"c":4031.0,"t":"d"},
      {"i":376,"o":4031.0,"h":4040.0,"l":4029.0,"c":4035.0,"t":"d"},
      {"i":377,"o":4035.0,"h":4044.0,"l":4033.0,"c":4040.0,"t":"d"},
      {"i":378,"o":4040.0,"h":4042.0,"l":4032.0,"c":4036.0,"t":"d"},
      {"i":379,"o":4036.0,"h":4047.0,"l":4034.0,"c":4042.0,"t":"d"},
      {"i":380,"o":4042.0,"h":4069.0,"l":4040.0,"c":4066.0,"t":"d"},
      {"i":381,"o":4066.0,"h":4068.0,"l":4055.0,"c":4060.0,"t":"d"},
      {"i":382,"o":4060.0,"h":4066.0,"l":4056.0,"c":4064.0,"t":"d"},
      {"i":383,"o":4064.0,"h":4066.0,"l":4052.0,"c":4057.0,"t":"d"},
      {"i":384,"o":4057.0,"h":4065.0,"l":4054.0,"c":4062.0,"t":"d"},
      {"i":385,"o":4062.0,"h":4064.0,"l":4053.0,"c":4058.0,"t":"d"},
      {"i":386,"o":4058.0,"h":4081.0,"l":4055.0,"c":4066.0,"t":"d"},
      {"i":387,"o":4066.0,"h":4068.0,"l":4056.0,"c":4060.0,"t":"d"},
      {"i":388,"o":4060.0,"h":4066.0,"l":4052.0,"c":4063.0,"t":"d"},
      {"i":389,"o":4063.0,"h":4065.0,"l":4051.0,"c":4054.0,"t":"d"},
      {"i":390,"o":4054.0,"h":4056.0,"l":4042.0,"c":4045.0,"t":"d"},
      {"i":391,"o":4045.0,"h":4048.0,"l":4036.0,"c":4040.0,"t":"d"},
      {"i":392,"o":4040.0,"h":4046.0,"l":4037.0,"c":4043.0,"t":"d"},
      {"i":393,"o":4043.0,"h":4045.0,"l":4032.0,"c":4036.0,"t":"d"},
      {"i":394,"o":4036.0,"h":4038.0,"l":4029.0,"c":4032.0,"t":"d"},
      {"i":395,"o":4032.0,"h":4038.0,"l":4030.0,"c":4035.0,"t":"d"},
      {"i":396,"o":4035.0,"h":4037.0,"l":4027.0,"c":4030.0,"t":"d"},
      {"i":397,"o":4030.0,"h":4036.0,"l":4028.0,"c":4033.0,"t":"d"},
      {"i":398,"o":4033.0,"h":4041.0,"l":4031.0,"c":4037.0,"t":"d"},
      {"i":399,"o":4037.0,"h":4039.0,"l":4029.0,"c":4032.0,"t":"d"},
      {"i":400,"o":4032.0,"h":4035.0,"l":4027.0,"c":4030.0,"t":"d"},
      {"i":401,"o":4030.0,"h":4038.0,"l":4028.0,"c":4034.0,"t":"d"},
      {"i":402,"o":4034.0,"h":4036.0,"l":4028.0,"c":4031.0,"t":"d"},
      {"i":403,"o":4031.0,"h":4033.0,"l":3985.0,"c":3992.0,"t":"d"},
      {"i":404,"o":3992.0,"h":3997.0,"l":3978.0,"c":3983.0,"t":"d"},
      {"i":405,"o":3983.0,"h":3988.0,"l":3973.0,"c":3978.0,"t":"d"},
      {"i":406,"o":3978.0,"h":3990.0,"l":3975.0,"c":3986.0,"t":"d"},
      {"i":407,"o":3986.0,"h":3992.0,"l":3976.0,"c":3980.0,"t":"d"},
      {"i":408,"o":3980.0,"h":3984.0,"l":3971.0,"c":3975.0,"t":"d"},
      {"i":409,"o":3975.0,"h":3983.0,"l":3969.0,"c":3979.0,"t":"d"},
      {"i":410,"o":3979.0,"h":3981.0,"l":3970.0,"c":3974.0,"t":"d"},
      {"i":411,"o":3974.0,"h":3985.0,"l":3971.0,"c":3980.0,"t":"d"},
      {"i":412,"o":3980.0,"h":3987.0,"l":3972.0,"c":3977.0,"t":"d"},
      {"i":413,"o":3977.0,"h":3988.0,"l":3974.0,"c":3984.0,"t":"d"},
      {"i":414,"o":3984.0,"h":3986.0,"l":3973.0,"c":3978.0,"t":"d"},
      {"i":415,"o":3978.0,"h":3989.0,"l":3976.0,"c":3985.0,"t":"d"},
      {"i":416,"o":3985.0,"h":3990.0,"l":3977.0,"c":3981.0,"t":"d"},
      {"i":417,"o":3981.0,"h":3992.0,"l":3978.0,"c":3988.0,"t":"d"},
      {"i":418,"o":3988.0,"h":4018.0,"l":3985.0,"c":3993.0,"t":"d"},
      {"i":419,"o":3993.0,"h":3996.0,"l":3982.0,"c":3986.0,"t":"d"},
      {"i":420,"o":3986.0,"h":3995.0,"l":3983.0,"c":3991.0,"t":"d"},
      {"i":421,"o":3991.0,"h":4000.0,"l":3988.0,"c":3996.0,"t":"d"},
      {"i":422,"o":3996.0,"h":3999.0,"l":3987.0,"c":3991.0,"t":"d"},
      {"i":423,"o":3991.0,"h":4003.0,"l":3989.0,"c":3997.0,"t":"d"},
      {"i":424,"o":3997.0,"h":4001.0,"l":3988.0,"c":3993.0,"t":"d"},
      {"i":425,"o":3993.0,"h":4004.0,"l":3990.0,"c":3999.0,"t":"d"},
      {"i":426,"o":3999.0,"h":4001.0,"l":3958.0,"c":3970.0,"t":"d"},
      {"i":427,"o":3970.0,"h":3998.0,"l":3966.0,"c":3995.0,"t":"d"},
      {"i":428,"o":3995.0,"h":4008.0,"l":3992.0,"c":4004.0,"t":"d"},
      {"i":429,"o":4004.0,"h":4014.0,"l":4001.0,"c":4010.0,"t":"d"},
      {"i":430,"o":4010.0,"h":4022.0,"l":4008.0,"c":4018.0,"t":"d"},
      {"i":431,"o":4018.0,"h":4020.0,"l":4009.0,"c":4012.0,"t":"d"},
      {"i":432,"o":4012.0,"h":4019.0,"l":4010.0,"c":4016.0,"t":"d"},
      {"i":433,"o":4016.0,"h":4018.0,"l":4005.0,"c":4010.0,"t":"d"},
      {"i":434,"o":4010.0,"h":4013.0,"l":3995.0,"c":4000.0,"t":"d"},
      {"i":435,"o":4000.0,"h":4004.0,"l":3985.0,"c":3992.0,"t":"d"},
      {"i":436,"o":3992.0,"h":4007.0,"l":3989.0,"c":4003.0,"t":"d"},
      {"i":437,"o":4003.0,"h":4015.0,"l":4001.0,"c":4011.0,"t":"d"},
      {"i":438,"o":4011.0,"h":4022.0,"l":4009.0,"c":4016.0,"t":"d"},
      {"i":439,"o":4016.0,"h":4026.0,"l":4013.0,"c":4022.0,"t":"d"},
      {"i":440,"o":4021.3,"h":4028.0,"l":4018.6,"c":4023.8,"t":"d"},
      {"i":441,"o":4023.8,"h":4026.5,"l":4018.4,"c":4021.3,"t":"d"},
      {"i":442,"o":4018.6,"h":4021.1,"l":4007.8,"c":4008.6,"t":"d"},
      {"i":443,"o":4008.6,"h":4011.2,"l":4003.3,"c":4003.3,"t":"d"},
      {"i":444,"o":4003.3,"h":4018.1,"l":4003.3,"c":4017.4,"t":"d"},
      {"i":445,"o":4017.2,"h":4030.5,"l":4016.2,"c":4018.6,"t":"d"},
      {"i":446,"o":4018.6,"h":4023.1,"l":4014.2,"c":4021.1,"t":"d"},
      {"i":447,"o":4020.9,"h":4025.5,"l":4018.6,"c":4024.0,"t":"d"},
      {"i":448,"o":4023.6,"h":4040.6,"l":4023.1,"c":4025.3,"t":"d"},
      {"i":449,"o":4025.3,"h":4025.5,"l":4005.8,"c":4007.8,"t":"d"},
      {"i":450,"o":4008.1,"h":4011.2,"l":4005.3,"c":4005.8,"t":"d"},
      {"i":451,"o":4005.6,"h":4014.2,"l":3997.9,"c":4008.6,"t":"d"},
      {"i":452,"o":4011.7,"h":4019.1,"l":4002.4,"c":4005.8,"t":"d"},
      {"i":453,"o":4009.1,"h":4019.1,"l":4001.4,"c":4011.7,"t":"d"},
      {"i":454,"o":4009.6,"h":4012.7,"l":4003.3,"c":4004.8,"t":"d"},
      {"i":455,"o":4004.8,"h":4011.7,"l":4002.9,"c":4007.3,"t":"d"},
      {"i":456,"o":4007.3,"h":4017.6,"l":4005.3,"c":4006.8,"t":"d"},
      {"i":457,"o":4006.5,"h":4009.5,"l":4005.1,"c":4007.3,"t":"d"},
      {"i":458,"o":4009.8,"h":4009.8,"l":3999.9,"c":4000.4,"t":"d"},
      {"i":459,"o":4000.4,"h":4010.3,"l":4000.4,"c":4010.1,"t":"d"},
      {"i":460,"o":4009.5,"h":4027.0,"l":4003.3,"c":4024.6,"t":"d"},
      {"i":461,"o":4024.6,"h":4031.0,"l":4018.1,"c":4023.1,"t":"d"},
      {"i":462,"o":4023.1,"h":4045.2,"l":4022.6,"c":4037.9,"t":"d"},
      {"i":463,"o":4037.4,"h":4050.7,"l":4036.9,"c":4046.7,"t":"d"},
      {"i":464,"o":4046.7,"h":4051.2,"l":4045.5,"c":4049.7,"t":"d"},
      {"i":465,"o":4049.2,"h":4067.9,"l":4046.2,"c":4061.5,"t":"d"},
      {"i":466,"o":4063.5,"h":4084.5,"l":4061.5,"c":4081.5,"t":"u"}
    ],
    "seps": [
      {"i":2},{"i":25},{"i":48},{"i":71},{"i":94},{"i":117},{"i":140},{"i":163},{"i":186},{"i":205},{"i":228},
      {"i":251},{"i":274},{"i":297},{"i":320},{"i":343},{"i":366},{"i":389},{"i":412},{"i":435},{"i":458}
    ],
    "redLevels": [
      {"p":4198.4,"a":-0.375,"b":466.375},
      {"p":4175.0,"a":93.2,"b":466.375},
      {"p":4088.4,"a":-0.375,"b":466.375},
      {"p":4084.6,"a":-0.375,"b":466.375},
      {"p":4065.6,"a":-0.375,"b":466.375},
      {"p":4052.7,"a":434,"b":466.375},
      {"p":4016.9,"a":319.1,"b":466.375},
      {"p":4001.1,"a":-0.375,"b":466.375}
    ],
    "blueLevels": [
      {"p":4191.0,"a":-0.375,"b":466.375},
      {"p":4007.3,"a":434,"b":466.375},
      {"p":3976.2,"a":388.6,"b":466.375}
    ],
    "blueDashLevels": [
      {"p":4000.6,"a":434,"b":466.375},
      {"p":3998.8,"a":24,"b":466.375},
      {"p":3979.0,"a":-0.375,"b":466.375},
      {"p":3977.0,"a":-0.375,"b":466.375}
    ],
    "info": [
      {"i":1,"p":4204.07,"txt":"GOLD, H1:\u00a0 GOLD"},
      {"i":1,"p":4200.85,"txt":"Substantial Arrows Build 1.720"},
      {"i":1,"p":4197.62,"txt":"Source 1: W1 | Drawn: 78"},
      {"i":1,"p":4194.40,"txt":"Source 2: D1 | Drawn: 214"},
      {"i":1,"p":4191.18,"txt":"Filtered display target: 500 (above 250 / below 250)"},
      {"i":1,"p":4187.96,"txt":"Drawn above: 42"},
      {"i":1,"p":4184.73,"txt":"Drawn below: 250"},
      {"i":1,"p":4181.51,"txt":"Distance-filtered: 0"},
      {"i":1,"p":4178.29,"txt":"Source 1 raw: solid 214 | dotted 35 | deleted 382"},
      {"i":1,"p":4175.07,"txt":"Source 2 raw: solid 313 | dotted 110 | deleted 2180"},
      {"i":1,"p":4171.85,"txt":"Status: Active"}
    ]
  },
  "layer": [
    {
      "data": {"values": [{"i":232.6,"p":4073.4,"txt":"GOLD, H1"}]},
      "mark": {"type":"text","fontSize":40,"color":"#D3D3D3","align":"center","baseline":"middle","font":"Liberation Sans"},
      "encoding": {
        "x": {"field":"i","type":"quantitative","scale":{"domain":[-0.375,466.375],"nice":false,"zero":false},"axis":null},
        "y": {"field":"p","type":"quantitative","scale":{"domain":[3942.17,4206.43],"nice":false,"zero":false},"axis":null},
        "text": {"field":"txt"}
      }
    },
    {
      "data": {"name":"info"},
      "mark": {"type":"text","fontSize":9.3,"color":"#000000","align":"left","baseline":"middle","font":"Liberation Sans"},
      "encoding": {
        "x": {"field":"i","type":"quantitative","scale":{"domain":[-0.375,466.375],"nice":false,"zero":false},"axis":null},
        "y": {"field":"p","type":"quantitative","scale":{"domain":[3942.17,4206.43],"nice":false,"zero":false},"axis":null},
        "text": {"field":"txt"}
      }
    },
    {
      "data": {"name":"seps"},
      "mark": {"type":"rule","color":"#000000","strokeWidth":1,"strokeDash":[3,2]},
      "encoding": {
        "x": {"field":"i","type":"quantitative","scale":{"domain":[-0.375,466.375],"nice":false,"zero":false},"axis":null}
      }
    },
    {
      "data": {"name":"bars"},
      "mark": {"type":"rule","strokeWidth":1},
      "encoding": {
        "x": {"field":"i","type":"quantitative","scale":{"domain":[-0.375,466.375],"nice":false,"zero":false},"axis":null},
        "y": {"field":"l","type":"quantitative","scale":{"domain":[3942.17,4206.43],"nice":false,"zero":false},"axis":null},
        "y2": {"field":"h"},
        "color": {"field":"t","type":"nominal","scale":{"domain":["d","u"],"range":["#EF5350","#26A69A"]},"legend":null}
      }
    },
    {
      "data": {"name":"bars"},
      "mark": {"type":"bar","width":3},
      "encoding": {
        "x": {
          "field":"i","type":"quantitative",
          "scale":{"domain":[-0.375,466.375],"nice":false,"zero":false},
          "axis":{
            "orient":"bottom","title":null,"grid":false,"domain":true,
            "values":[0,16,32,48,64,80,96,112,128,144,160,176,192,208,224,240,256,272,288,304,320,336,352,368,384,400,416,432,448,464],
            "labelExpr":"['22 Jun 2026','23 Jun 15:00','24 Jun 08:00','25 Jun 01:00','25 Jun 17:00','26 Jun 10:00','29 Jun 03:00','29 Jun 19:00','30 Jun 12:00','1 Jul 05:00','1 Jul 21:00','2 Jul 14:00','3 Jul 07:00','6 Jul 04:00','6 Jul 20:00','7 Jul 13:00','8 Jul 06:00','8 Jul 22:00','9 Jul 15:00','10 Jul 08:00','13 Jul 01:00','13 Jul 17:00','14 Jul 10:00','15 Jul 03:00','15 Jul 19:00','16 Jul 12:00','17 Jul 05:00','17 Jul 21:00','20 Jul 14:00','21 Jul 07:00'][round(datum.value/16)]",
            "labelAlign":"left","labelBaseline":"top","labelPadding":3,"labelFontSize":9,"tickSize":5,"labelOverlap":false,"labelBound":false,"labelFlush":false
          }
        },
        "y": {
          "field":"o","type":"quantitative",
          "scale":{"domain":[3942.17,4206.43],"nice":false,"zero":false},
          "axis":{
            "orient":"right","title":null,"grid":false,"domain":true,
            "values":[3949.83,3959.29,3968.75,3978.21,3987.67,3997.13,4006.59,4016.05,4025.51,4034.97,4044.43,4053.89,4063.35,4072.81,4082.27,4091.73,4101.19,4110.65,4120.11,4129.57,4139.03,4148.49,4157.95,4167.41,4176.87,4186.33,4195.79,4205.25],
            "format":".2f","labelFontSize":9,"tickSize":5,"labelPadding":2,"labelOverlap":false,"labelBound":false,"labelFlush":false
          }
        },
        "y2": {"field":"c"},
        "color": {"field":"t","type":"nominal","scale":{"domain":["d","u"],"range":["#EF5350","#26A69A"]},"legend":null}
      }
    },
    {
      "data": {"name":"redLevels"},
      "mark": {"type":"rule","color":"#FF0000","strokeWidth":1,"clip":true},
      "encoding": {
        "x": {"field":"a","type":"quantitative","scale":{"domain":[-0.375,466.375],"nice":false,"zero":false},"axis":null},
        "x2": {"field":"b"},
        "y": {"field":"p","type":"quantitative","scale":{"domain":[3942.17,4206.43],"nice":false,"zero":false},"axis":null}
      }
    },
    {
      "data": {"name":"blueLevels"},
      "mark": {"type":"rule","color":"#1E90FF","strokeWidth":1,"clip":true},
      "encoding": {
        "x": {"field":"a","type":"quantitative","scale":{"domain":[-0.375,466.375],"nice":false,"zero":false},"axis":null},
        "x2": {"field":"b"},
        "y": {"field":"p","type":"quantitative","scale":{"domain":[3942.17,4206.43],"nice":false,"zero":false},"axis":null}
      }
    },
    {
      "data": {"name":"blueDashLevels"},
      "mark": {"type":"rule","color":"#1E90FF","strokeWidth":1,"strokeDash":[3,2],"clip":true},
      "encoding": {
        "x": {"field":"a","type":"quantitative","scale":{"domain":[-0.375,466.375],"nice":false,"zero":false},"axis":null},
        "x2": {"field":"b"},
        "y": {"field":"p","type":"quantitative","scale":{"domain":[3942.17,4206.43],"nice":false,"zero":false},"axis":null}
      }
    },
    {
      "data": {"values": [{"i":370.9,"p":4206.43}]},
      "mark": {"type":"point","shape":"M-1,0L1,0L0,1Z","size":100,"filled":true,"color":"#E6E1EE","opacity":1},
      "encoding": {
        "x": {"field":"i","type":"quantitative","scale":{"domain":[-0.375,466.375],"nice":false,"zero":false},"axis":null},
        "y": {"field":"p","type":"quantitative","scale":{"domain":[3942.17,4206.43],"nice":false,"zero":false},"axis":null}
      }
    },
    {
      "data": {"values": [{"i":210.4,"p":4040.0}]},
      "mark": {"type":"point","shape":"M0,0L0,1.415L0.33,1.085L0.566,1.604L0.755,1.509L0.519,1.019L0.99,1.019Z","size":450,"filled":true,"fill":"#FFFFFF","stroke":"#333333","strokeWidth":1,"opacity":1},
      "encoding": {
        "x": {"field":"i","type":"quantitative","scale":{"domain":[-0.375,466.375],"nice":false,"zero":false},"axis":null},
        "y": {"field":"p","type":"quantitative","scale":{"domain":[3942.17,4206.43],"nice":false,"zero":false},"axis":null}
      }
    },
    {
      "data": {"values": [{"i":462.4,"p":4196.29,"txt":"Market Trend"}]},
      "mark": {"type":"text","fontSize":13,"color":"#B4B4B4","align":"right","baseline":"middle","font":"Liberation Sans"},
      "encoding": {
        "x": {"field":"i","type":"quantitative","scale":{"domain":[-0.375,466.375],"nice":false,"zero":false},"axis":null},
        "y": {"field":"p","type":"quantitative","scale":{"domain":[3942.17,4206.43],"nice":false,"zero":false},"axis":null},
        "text": {"field":"txt"}
      }
    },
    {
      "data": {"values": [{"i":462.4,"p":4191.36,"txt":"W1 : SELL"}]},
      "mark": {"type":"text","fontSize":13,"color":"#F08080","align":"right","baseline":"middle","font":"Liberation Sans"},
      "encoding": {
        "x": {"field":"i","type":"quantitative","scale":{"domain":[-0.375,466.375],"nice":false,"zero":false},"axis":null},
        "y": {"field":"p","type":"quantitative","scale":{"domain":[3942.17,4206.43],"nice":false,"zero":false},"axis":null},
        "text": {"field":"txt"}
      }
    },
    {
      "data": {"values": [
        {"i":462.4,"p":4186.42,"txt":"D1 : BUY"},
        {"i":462.4,"p":4181.50,"txt":"H4 : BUY"},
        {"i":462.4,"p":4176.58,"txt":"H1 : BUY"},
        {"i":462.4,"p":4171.35,"txt":"M15 : BUY"}
      ]},
      "mark": {"type":"text","fontSize":13,"color":"#32CD32","align":"right","baseline":"middle","font":"Liberation Sans"},
      "encoding": {
        "x": {"field":"i","type":"quantitative","scale":{"domain":[-0.375,466.375],"nice":false,"zero":false},"axis":null},
        "y": {"field":"p","type":"quantitative","scale":{"domain":[3942.17,4206.43],"nice":false,"zero":false},"axis":null},
        "text": {"field":"txt"}
      }
    },
    {
      "data": {"values": [{"i":3.9,"p":3967.1,"txt":"Substantial Arrows"}]},
      "mark": {"type":"text","fontSize":16,"color":"#A8A8A8","align":"left","baseline":"middle","font":"Liberation Sans"},
      "encoding": {
        "x": {"field":"i","type":"quantitative","scale":{"domain":[-0.375,466.375],"nice":false,"zero":false},"axis":null},
        "y": {"field":"p","type":"quantitative","scale":{"domain":[3942.17,4206.43],"nice":false,"zero":false},"axis":null},
        "text": {"field":"txt"}
      }
    },
    {
      "data": {"values": [{"i":3.9,"p":3961.0,"txt":"by Muhbalak"}]},
      "mark": {"type":"text","fontSize":13,"color":"#8C8C8C","align":"left","baseline":"middle","font":"Liberation Sans"},
      "encoding": {
        "x": {"field":"i","type":"quantitative","scale":{"domain":[-0.375,466.375],"nice":false,"zero":false},"axis":null},
        "y": {"field":"p","type":"quantitative","scale":{"domain":[3942.17,4206.43],"nice":false,"zero":false},"axis":null},
        "text": {"field":"txt"}
      }
    },
    {
      "data": {"values": [
        {"i":3.9,"p":3954.0,"txt":"Version 1"},
        {"i":3.9,"p":3948.6,"txt":"Founder's Edition"}
      ]},
      "mark": {"type":"text","fontSize":12,"color":"#808080","align":"left","baseline":"middle","font":"Liberation Sans"},
      "encoding": {
        "x": {"field":"i","type":"quantitative","scale":{"domain":[-0.375,466.375],"nice":false,"zero":false},"axis":null},
        "y": {"field":"p","type":"quantitative","scale":{"domain":[3942.17,4206.43],"nice":false,"zero":false},"axis":null},
        "text": {"field":"txt"}
      }
    },
    {
      "data": {"values": [{"i":160.9,"p":3966.1,"txt":"WITHOUT ARROWS STILL \"OK\", LOOK AT HOW THE PRICE REACTS WHEN IT APPROACHES/TOUCHES THE LINES!"}]},
      "mark": {"type":"text","fontSize":13.3,"color":"#1A1A1A","align":"left","baseline":"middle","font":"Liberation Sans"},
      "encoding": {
        "x": {"field":"i","type":"quantitative","scale":{"domain":[-0.375,466.375],"nice":false,"zero":false},"axis":null},
        "y": {"field":"p","type":"quantitative","scale":{"domain":[3942.17,4206.43],"nice":false,"zero":false},"axis":null},
        "text": {"field":"txt"}
      }
    }
  ]
}
